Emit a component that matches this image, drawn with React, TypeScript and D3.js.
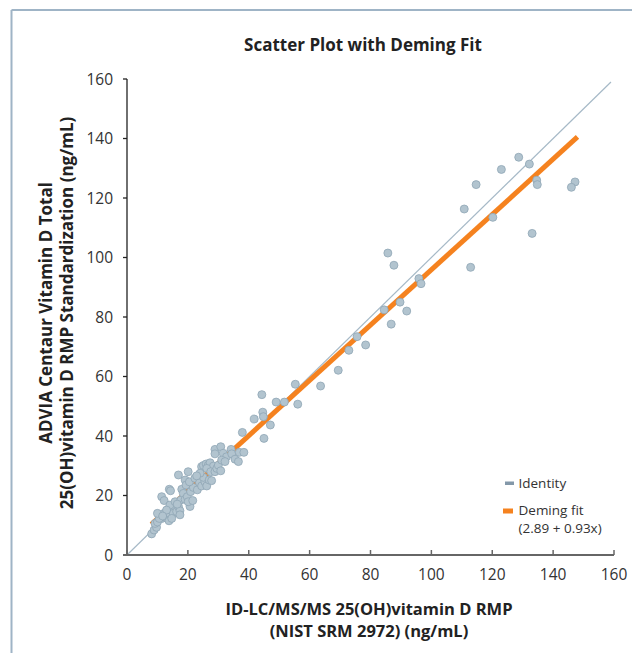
import React from 'react';
import * as d3 from 'd3';

const xTicks = [0, 20, 40, 60, 80, 100, 120, 140, 160];
const yTicks = [0, 20, 40, 60, 80, 100, 120, 140, 160];

const pointX = [
  85.7, 87.7, 84.5, 86.8, 89.7, 91.9, 95.9, 96.6, 112.9, 110.8, 114.7, 120.2, 123.0, 128.7, 132.2, 134.6, 134.8, 133.1, 147.2, 146.0,
  75.6, 78.4, 72.9, 69.4, 63.6, 55.3, 56.1, 51.7, 49.0, 44.3, 44.6, 44.8, 41.8, 47.1, 45.0, 37.9,
  8.1, 8.9, 9.7, 9.2, 10.0, 11.5, 10.6, 12.6, 13.8, 12.2, 14.0, 10.0, 11.4, 12.2, 13.9, 14.3, 13.6, 15.0, 14.1, 15.2,
  16.3, 16.9, 17.4, 15.8, 17.7, 16.9, 18.0, 19.1, 20.1, 19.4, 18.5, 19.1, 19.8, 20.7, 20.1, 21.6, 20.9, 21.8, 20.5,
  22.3, 23.1, 23.8, 24.5, 25.6, 26.2, 25.1, 27.0, 27.8, 24.5, 25.1, 26.0, 26.7, 27.3, 28.4, 26.2, 27.5, 28.9, 29.5,
  30.0, 30.8, 28.9, 28.9, 30.8, 31.6, 32.7, 31.1, 32.2, 34.2, 34.4, 35.5, 36.6, 36.9, 38.4, 24.0, 22.9, 16.5, 13.0,
  11.7, 14.7, 17.4,
];
const pointY = [
  101.5, 97.4, 82.4, 77.6, 85.0, 82.0, 92.9, 91.2, 96.7, 116.3, 124.5, 113.5, 129.6, 133.7, 131.4, 126.0, 124.5, 108.1, 125.4, 123.6,
  73.4, 70.6, 68.8, 62.1, 56.8, 57.4, 50.7, 51.4, 51.4, 53.9, 48.0, 46.5, 45.7, 43.7, 39.2, 41.2,
  7.1, 8.4, 9.3, 10.6, 11.1, 12.3, 12.3, 12.7, 11.5, 14.0, 14.0, 14.0, 19.6, 18.3, 22.1, 21.6, 15.4, 16.3, 16.8, 14.0,
  14.6, 16.3, 14.9, 17.9, 18.5, 26.9, 22.1, 25.2, 28.0, 23.5, 20.7, 18.7, 19.6, 16.3, 17.9, 18.3, 21.3, 22.7, 24.6,
  25.8, 21.9, 24.3, 23.2, 24.6, 23.2, 26.1, 25.2, 25.0, 29.7, 30.1, 30.6, 30.2, 31.0, 29.9, 29.1, 28.0, 28.0, 29.1,
  30.2, 28.3, 35.5, 34.0, 36.4, 34.2, 33.0, 31.9, 31.4, 35.5, 34.0, 32.2, 31.4, 34.5, 34.5, 27.5, 26.6, 17.1, 15.1,
  13.1, 12.3, 13.5,
];

const demingIntercept = 2.89;
const demingSlope = 0.93;
const demingRange = [8, 148];
const identityRange = [0, 159];

const legendLabels = ['Identity', 'Deming fit'];
const legendSubs = ['', '(2.89 + 0.93x)'];
const legendColors = ['#8398a9', '#f5821f'];

const FONT = '"Open Sans", "Noto Sans", sans-serif';

export default function App() {
  const W = 632;
  const H = 653;
  const x = d3.scaleLinear().domain([0, 160]).range([127, 614]);
  const y = d3.scaleLinear().domain([0, 160]).range([555, 79]);
  const line = d3
    .line<[number, number]>()
    .x((d) => x(d[0]))
    .y((d) => y(d[1]));
  const identity: [number, number][] = identityRange.map((v) => [v, v]);
  const deming: [number, number][] = demingRange.map((v) => [v, demingIntercept + demingSlope * v]);
  const pts = pointX.map((px, i) => [px, pointY[i]] as [number, number]);

  const markerGeom = [
    { x: 505, y: 481.5, w: 9, h: 3.5 },
    { x: 503, y: 508.5, w: 10, h: 5 },
  ];
  const labelY = [483, 510];

  return (
    <svg
      width={W}
      height={H}
      style={{ position: 'absolute', left: 0, top: 0, background: '#fff' }}
      fontFamily={FONT}
    >
      <rect x={0} y={0} width={W} height={H} fill="#fff" />
      {/* frame */}
      <line x1={11.5} y1={10} x2={W} y2={10} stroke="#9fb4c6" strokeWidth={2} />
      <line x1={11.5} y1={10} x2={11.5} y2={H} stroke="#9fb4c6" strokeWidth={2} />

      <text x={363} y={51} textAnchor="middle" fontSize={17} fontWeight={700} fill="#222">
        Scatter Plot with Deming Fit
      </text>

      {/* lines */}
      <path d={line(identity) || ''} stroke="#a6b9c7" strokeWidth={1.2} fill="none" />
      <path d={line(deming) || ''} stroke="#f5821f" strokeWidth={5} fill="none" />

      {/* points */}
      {pts.map((d, i) => (
        <circle
          key={i}
          cx={x(d[0])}
          cy={y(d[1])}
          r={4}
          fill="#b2c4cf"
          stroke="#8fa6b5"
          strokeWidth={0.8}
        />
      ))}

      {/* y axis */}
      <line x1={127} y1={y(160)} x2={127} y2={y(0)} stroke="#222" strokeWidth={1.3} />
      {yTicks.map((t) => (
        <g key={'y' + t}>
          <line x1={123} x2={127} y1={y(t)} y2={y(t)} stroke="#222" strokeWidth={1.3} />
          <text x={113} y={y(t)} dy="0.36em" textAnchor="end" fontSize={15.5} fill="#333">
            {t}
          </text>
        </g>
      ))}
      {/* x axis */}
      <line x1={123} y1={555} x2={x(160)} y2={555} stroke="#666" strokeWidth={2} />
      {xTicks.map((t) => (
        <g key={'x' + t}>
          <line x1={x(t)} x2={x(t)} y1={555} y2={550} stroke="#666" strokeWidth={1.5} />
          <text x={x(t)} y={580} textAnchor="middle" fontSize={15.5} fill="#333">
            {t}
          </text>
        </g>
      ))}

      {/* axis titles */}
      <text x={369} y={615} textAnchor="middle" fontSize={16.5} fontWeight={700} fill="#222">
        ID-LC/MS/MS 25(OH)vitamin D RMP
      </text>
      <text x={369} y={637} textAnchor="middle" fontSize={16.5} fontWeight={700} fill="#222">
        (NIST SRM 2972) (ng/mL)
      </text>
      <g transform="translate(52,313) rotate(-90)">
        <text x={0} y={0} textAnchor="middle" fontSize={17} fontWeight={700} fill="#222">
          ADVIA Centaur Vitamin D Total
        </text>
        <text x={0} y={21} textAnchor="middle" fontSize={17} fontWeight={700} fill="#222">
          25(OH)vitamin D RMP Standardization (ng/mL)
        </text>
      </g>

      {/* legend */}
      {legendLabels.map((lab, i) => (
        <g key={lab}>
          <rect
            x={markerGeom[i].x}
            y={markerGeom[i].y}
            width={markerGeom[i].w}
            height={markerGeom[i].h}
            fill={legendColors[i]}
          />
          <text x={518.5} y={labelY[i]} dy="0.35em" fontSize={13.5} fill="#333">
            {lab}
          </text>
          {legendSubs[i] && (
            <text x={518.5} y={labelY[i] + 18} dy="0.35em" fontSize={13.5} fill="#333">
              {legendSubs[i]}
            </text>
          )}
        </g>
      ))}
    </svg>
  );
}
